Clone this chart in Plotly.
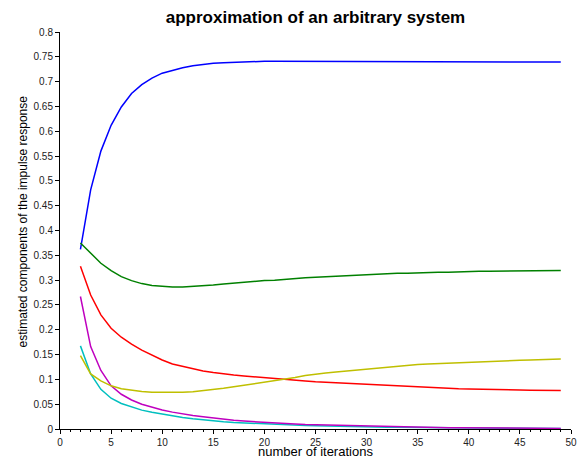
import plotly.graph_objects as go

iterations = list(range(2, 50))

blue = [0.362, 0.482, 0.560, 0.612, 0.649, 0.676, 0.694, 0.707, 0.717, 0.723,
        0.728, 0.732, 0.735, 0.737, 0.738, 0.739, 0.740, 0.7405, 0.741, 0.741,
        0.741, 0.741, 0.741, 0.741, 0.741, 0.741, 0.741, 0.741, 0.741, 0.7408,
        0.7406, 0.7405, 0.7404, 0.7403, 0.7402, 0.7401, 0.740, 0.740, 0.740, 0.740,
        0.740, 0.740, 0.7398, 0.7397, 0.7396, 0.7395, 0.7394, 0.7393]

green = [0.375, 0.354, 0.334, 0.319, 0.307, 0.299, 0.293, 0.289, 0.287, 0.286,
         0.286, 0.287, 0.288, 0.290, 0.292, 0.294, 0.296, 0.297, 0.299, 0.300,
         0.302, 0.303, 0.305, 0.306, 0.307, 0.308, 0.310, 0.311, 0.312, 0.312,
         0.313, 0.314, 0.314, 0.315, 0.315, 0.316, 0.316, 0.317, 0.3175, 0.318,
         0.318, 0.318, 0.319, 0.319, 0.319, 0.3195, 0.3195, 0.3195]

red = [0.328, 0.270, 0.230, 0.203, 0.185, 0.171, 0.159, 0.1487, 0.139, 0.131,
       0.126, 0.121, 0.117, 0.114, 0.111, 0.109, 0.107, 0.105, 0.1035, 0.102,
       0.100, 0.098, 0.0965, 0.095, 0.094, 0.092, 0.091, 0.090, 0.089, 0.088,
       0.087, 0.086, 0.085, 0.084, 0.0835, 0.083, 0.082, 0.081, 0.0807, 0.080,
       0.0797, 0.079, 0.0788, 0.0785, 0.078, 0.0778, 0.0776, 0.0774]

cyan = [0.1675, 0.111, 0.080, 0.062, 0.0515, 0.044, 0.038, 0.0336, 0.0296, 0.026,
        0.023, 0.0205, 0.018, 0.016, 0.0145, 0.013, 0.012, 0.011, 0.010, 0.0092,
        0.0085, 0.0078, 0.0072, 0.0066, 0.006, 0.0055, 0.005, 0.0046, 0.0042, 0.0039,
        0.0036, 0.0033, 0.003, 0.0028, 0.0026, 0.0024, 0.0022, 0.002, 0.0019, 0.0017,
        0.0016, 0.0015, 0.0014, 0.0013, 0.0012, 0.0011, 0.001, 0.001]

magenta = [0.267, 0.166, 0.118, 0.087, 0.070, 0.0585, 0.050, 0.0437, 0.0383, 0.034,
           0.030, 0.027, 0.0245, 0.022, 0.019, 0.0175, 0.016, 0.0145, 0.013, 0.012,
           0.011, 0.010, 0.009, 0.0085, 0.0078, 0.007, 0.0065, 0.006, 0.0055, 0.005,
           0.0046, 0.0042, 0.0038, 0.0035, 0.0032, 0.003, 0.0027, 0.0025, 0.0023, 0.0021,
           0.002, 0.0018, 0.0017, 0.0016, 0.0015, 0.0014, 0.0013, 0.0012]

yellow = [0.148, 0.111, 0.097, 0.087, 0.081, 0.078, 0.0755, 0.074, 0.0735, 0.0735,
          0.074, 0.075, 0.077, 0.079, 0.082, 0.085, 0.088, 0.091, 0.095, 0.098,
          0.101, 0.104, 0.108, 0.111, 0.113, 0.115, 0.117, 0.119, 0.121, 0.123,
          0.125, 0.127, 0.128, 0.130, 0.131, 0.132, 0.133, 0.134, 0.135, 0.136,
          0.137, 0.1375, 0.138, 0.1386, 0.139, 0.140, 0.1405, 0.141]

series = [
    (blue, "#0000ff"),
    (green, "#008000"),
    (red, "#ff0000"),
    (cyan, "#00bfbf"),
    (magenta, "#bf00bf"),
    (yellow, "#bfbf00"),
]

x_title = "number of iterations"
y_title = "estimated components of the impulse response"

fig = go.Figure()
for vals, col in series:
    fig.add_trace(go.Scatter(x=iterations, y=vals, mode="lines",
                             line=dict(color=col, width=1.5), showlegend=False))

fig.update_layout(
    width=580, height=459,
    margin=dict(l=60, r=9, t=32, b=30),
    paper_bgcolor="white", plot_bgcolor="white",
    font=dict(family="Liberation Sans, Arial, sans-serif", color="black"),
    title=dict(text="<b>approximation of an arbitrary system</b>",
               x=(60 + 571) / 2 / 580, xanchor="center",
               y=1 - 17 / 459, yanchor="middle",
               font=dict(size=17, color="black")),
    annotations=[
        dict(text=x_title, xref="paper", yref="paper", x=0.5, y=0,
             xanchor="center", yanchor="bottom", yshift=-31, borderpad=0,
             showarrow=False, font=dict(size=13, color="black")),
        dict(text=y_title, xref="paper", yref="paper", x=0, y=0.5,
             xanchor="center", yanchor="middle", xshift=-38, yshift=9,
             textangle=-90, borderpad=0,
             showarrow=False, font=dict(size=12, color="black")),
    ],
)
fig.update_xaxes(
    range=[0, 50], dtick=5, tick0=0, showgrid=False, zeroline=False,
    showline=True, linecolor="black", linewidth=1,
    ticks="outside", ticklen=4, tickcolor="black", tickwidth=1,
    tickfont=dict(size=10, color="#222"),
    minor=dict(dtick=1, ticks="outside", ticklen=2, tickcolor="black", showgrid=False),
    automargin=False,
)
fig.update_yaxes(
    range=[0, 0.8], dtick=0.05, tick0=0, showgrid=False, zeroline=False,
    showline=True, linecolor="black", linewidth=1,
    ticks="outside", ticklen=4, tickcolor="black", tickwidth=1,
    tickfont=dict(size=10, color="#222"),
    automargin=False,
)

fig.write_html("out.html", config={"displayModeBar": False},
               post_script="document.body.style.margin='0';document.body.style.overflow='hidden';")
